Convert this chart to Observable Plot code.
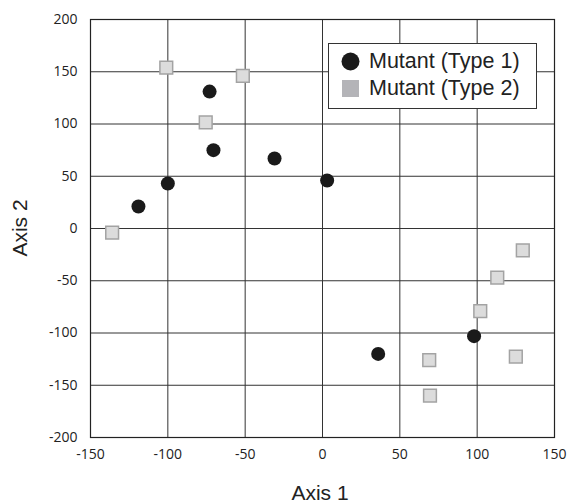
<!DOCTYPE html>
<html><head><meta charset="utf-8">
<script src="https://cdn.jsdelivr.net/npm/d3@7"></script>
<script src="https://cdn.jsdelivr.net/npm/@observablehq/plot@0.6"></script>
<style>
body{margin:0;background:#fff;}
#wrap{position:relative;width:568px;height:502px;}
#legend{position:absolute;left:328px;top:43px;width:209px;height:66px;border:1px solid #333;background:#fff;box-sizing:border-box;font-family:"Liberation Sans",Arial,sans-serif;font-size:21.5px;color:#222;padding:4px 0 0 0;}
#legend .row{display:flex;align-items:center;height:27px;}
#legend .sw{width:19px;height:19px;margin:0 9px 0 12px;flex:none;}
</style></head>
<body><div id="wrap"><div id="legend"></div></div>
<script>
const type1X = [-73, -70.5, -31, -100, -119, 3, 98, 36];
const type1Y = [131, 75, 67, 43, 21, 46, -103, -120];
const type2X = [-101, -51.5, -75.5, -136, 129.5, 113, 102, 69, 125, 69.5];
const type2Y = [154, 146, 101.5, -4, -21, -47, -79, -126, -122.5, -160];
const seriesNames = ["Mutant (Type 1)", "Mutant (Type 2)"];
const xTicks = [-150, -100, -50, 0, 50, 100, 150];
const yTicks = [-200, -150, -100, -50, 0, 50, 100, 150, 200];
const xTitle = "Axis 1";
const yTitle = "Axis 2";

const t1 = type1X.map((x, i) => ({x, y: type1Y[i]}));
const t2 = type2X.map((x, i) => ({x, y: type2Y[i]}));

const plot = Plot.plot({
  width: 568, height: 502,
  marginLeft: 90, marginRight: 14, marginTop: 19, marginBottom: 65,
  style: {fontFamily: "'Open Sans', sans-serif", fontSize: "14px", color: "#222", background: "#fff"},
  x: {domain: [-150, 150]},
  y: {domain: [-200, 200]},
  marks: [
    Plot.gridX(xTicks, {stroke: "#333", strokeOpacity: 1, strokeWidth: 1}),
    Plot.gridY(yTicks, {stroke: "#333", strokeOpacity: 1, strokeWidth: 1}),
    Plot.axisX({ticks: xTicks, tickSize: 0, tickPadding: 12, tickFormat: d => String(d), label: null, fontSize: 14, fill: "#222"}),
    Plot.axisY({ticks: yTicks, tickSize: 0, tickPadding: 13, tickFormat: d => String(d), label: null, fontSize: 14, fill: "#222"}),
    Plot.frame({stroke: "#222", strokeWidth: 1.2}),
    Plot.dot(t2, {x: "x", y: "y", symbol: "square", r: 7.2, fill: "#dcdcdc", stroke: "#a3a3a3", strokeWidth: 1.5}),
    Plot.dot(t1, {x: "x", y: "y", r: 7, fill: "#1a1a1a", stroke: "none"})
  ]
});
const ns = "http://www.w3.org/2000/svg";
function addTitle(txt, x, y, rot) {
  const t = document.createElementNS(ns, "text");
  t.textContent = txt;
  t.setAttribute("text-anchor", "middle");
  t.setAttribute("dominant-baseline", "central");
  t.style.fontFamily = "'Liberation Sans', Arial, sans-serif";
  t.style.fontSize = "21px";
  t.setAttribute("fill", "#222");
  t.setAttribute("transform", `translate(${x},${y})` + (rot ? ` rotate(${rot})` : ""));
  plot.appendChild(t);
}
addTitle(xTitle, 320, 492, 0);
addTitle(yTitle, 19, 228, -90);
document.getElementById("wrap").prepend(plot);
const lg = document.getElementById("legend");
lg.innerHTML = `<div class="row"><svg class="sw" viewBox="0 0 19 19"><circle cx="9.5" cy="9.5" r="9" fill="#1a1a1a"/></svg>${seriesNames[0]}</div>
<div class="row"><svg class="sw" viewBox="0 0 19 19"><rect x="1" y="1" width="17" height="17" fill="#b4b4b8"/></svg>${seriesNames[1]}</div>`;
</script></body></html>
